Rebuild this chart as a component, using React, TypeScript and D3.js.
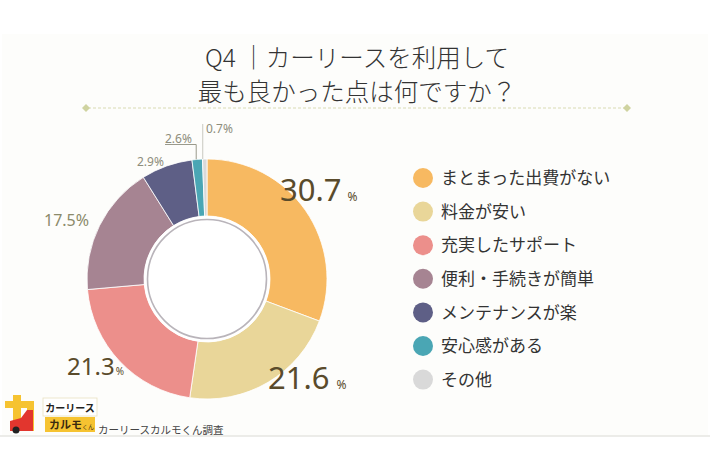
import React, { useRef, useEffect } from "react";
import * as d3 from "d3";

// survey answers (legend order = slice order, clockwise from 12 o'clock)
const categories = [
  "まとまった出費がない",
  "料金が安い",
  "充実したサポート",
  "便利・手続きが簡単",
  "メンテナンスが楽",
  "安心感がある",
  "その他",
];
// slice sizes as drawn in the picture
const shares = [30.7, 21.6, 21.3, 17.5, 6.9, 1.4, 0.6];
// printed percentage labels
const shareLabels = ["30.7", "21.6", "21.3", "17.5", "2.9", "2.6", "0.7"];
const colors = ["#f7b961", "#e9d699", "#ec8f8b", "#a68492", "#5e5f86", "#4aa6b4", "#d9d9d9"];
const titleLines = ["Q4 ｜カーリースを利用して", "最も良かった点は何ですか？"];
const sourceText = "カーリースカルモくん調査";

const JP = "'Noto Sans CJK JP', 'Noto Sans', sans-serif";
const NUM = "'Noto Sans', 'Liberation Sans', sans-serif";

interface LabelStyle {
  dx: number;
  dy: number;
  size: number;
  pctSize: number;
  pctGap: number;
  color: string;
  leader?: "elbow" | "vertical";
}

// where each percentage label sits, relative to the donut centre
const labelStyles: LabelStyle[] = [
  { dx: 73, dy: -78, size: 31, pctSize: 12, pctGap: 6, color: "#5a4b2b" },
  { dx: 61, dy: 110, size: 31, pctSize: 12, pctGap: 7, color: "#5a4b2b" },
  { dx: -140, dy: 96, size: 24, pctSize: 10, pctGap: 1, color: "#5a4b2b" },
  { dx: -163, dy: -53, size: 16, pctSize: 16, pctGap: 0, color: "#8b8a6a" },
  { dx: -70, dy: -113, size: 12, pctSize: 12, pctGap: 0, color: "#8e8d7c" },
  { dx: -42, dy: -136, size: 12, pctSize: 12, pctGap: 0, color: "#8e8d7c", leader: "elbow" },
  { dx: -1, dy: -146, size: 12, pctSize: 12, pctGap: 0, color: "#8e8d7c", leader: "vertical" },
];

const App: React.FC = () => {
  const ref = useRef<SVGSVGElement | null>(null);
  const width = 710;
  const height = 474;

  useEffect(() => {
    const root = d3.select(ref.current);
    root.selectAll("*").remove();
    const svg = root.attr("width", width).attr("height", height);

    // card background
    svg.append("rect").attr("width", width).attr("height", height).attr("fill", "#ffffff");
    svg
      .append("rect")
      .attr("x", 2)
      .attr("y", 34)
      .attr("width", width - 4)
      .attr("height", 402)
      .attr("fill", "#fdfdfb");
    svg
      .append("line")
      .attr("x1", 0)
      .attr("x2", width)
      .attr("y1", 436)
      .attr("y2", 436)
      .attr("stroke", "#e6e6e2")
      .attr("stroke-width", 1.5);

    // title
    svg
      .append("g")
      .selectAll("text")
      .data(titleLines)
      .enter()
      .append("text")
      .attr("x", 357)
      .attr("y", (d, i) => 67 + i * 34)
      .attr("text-anchor", "middle")
      .attr("fill", "#333")
      .style("font-family", JP)
      .style("font-size", "24.5px")
      .style("font-weight", 300)
      .text((d) => d);

    // ornamental divider
    const div = svg.append("g");
    div
      .append("line")
      .attr("x1", 88)
      .attr("x2", 625)
      .attr("y1", 108)
      .attr("y2", 108)
      .attr("stroke", "#d9dcb4")
      .attr("stroke-width", 1.2)
      .attr("stroke-dasharray", "3,2");
    [86, 627].forEach((x) => {
      div
        .append("path")
        .attr("d", `M${x - 4},108 L${x},104 L${x + 4},108 L${x},112 Z`)
        .attr("fill", "#cfd3a0");
    });

    // donut
    const cx = 207;
    const cy = 279;
    const outerR = 120;
    const innerR = 63;
    const g = svg.append("g").attr("transform", `translate(${cx},${cy})`);

    const pie = d3
      .pie<number>()
      .sort(null)
      .value((d) => d);
    const arcs = pie(shares);
    const arc = d3.arc<d3.PieArcDatum<number>>().innerRadius(innerR).outerRadius(outerR);

    g.selectAll("path.slice")
      .data(arcs)
      .enter()
      .append("path")
      .attr("class", "slice")
      .attr("d", arc)
      .attr("fill", (d, i) => colors[i])
      .attr("stroke", "#ffffff")
      .attr("stroke-width", 0.8);

    // inner hole with thin ring
    g.append("circle").attr("r", innerR).attr("fill", "#ffffff");
    g.append("circle")
      .attr("r", innerR - 3.5)
      .attr("fill", "#ffffff")
      .attr("stroke", "#b9b4ba")
      .attr("stroke-width", 1.6);

    // percentage labels
    const labels = g.append("g");
    arcs.forEach((a, i) => {
      const s = labelStyles[i];
      const t = labels
        .append("text")
        .attr("x", s.dx)
        .attr("y", s.dy)
        .attr("fill", s.color)
        .style("font-family", NUM)
        .style("font-size", `${s.size}px`);
      t.append("tspan").text(shareLabels[i]);
      t.append("tspan")
        .attr("dx", s.pctGap)
        .style("font-size", `${s.pctSize}px`)
        .text("%");

      const mid = (a.startAngle + a.endAngle) / 2;
      const px = Math.sin(mid) * outerR;
      const py = -Math.cos(mid) * outerR;
      if (s.leader === "elbow") {
        labels
          .append("path")
          .attr("d", `M${s.dx},${s.dy + 1.5} H${px - 1} V${py}`)
          .attr("fill", "none")
          .attr("stroke", "#9a9a8c")
          .attr("stroke-width", 1);
      } else if (s.leader === "vertical") {
        labels
          .append("line")
          .attr("x1", px - 2)
          .attr("x2", px - 2)
          .attr("y1", s.dy - 9)
          .attr("y2", py)
          .attr("stroke", "#c8c8c0")
          .attr("stroke-width", 1);
      }
    });

    // legend
    const legend = svg.append("g").attr("transform", "translate(423,178)");
    const item = legend
      .selectAll("g")
      .data(categories)
      .enter()
      .append("g")
      .attr("transform", (d, i) => `translate(0,${i * 33.6})`);
    item
      .append("circle")
      .attr("r", 10)
      .attr("fill", (d, i) => colors[i]);
    item
      .append("text")
      .attr("x", 18)
      .attr("dy", "0.36em")
      .attr("fill", "#333")
      .style("font-family", JP)
      .style("font-size", "17px")
      .text((d) => d);

    // logo + source
    const logo = svg.append("g");
    logo
      .append("path")
      .attr(
        "d",
        "M5,401 H13 V395 H21 V401 H34 V431 H27 V408 H21 V431 H13 V408 H5 Z",
      )
      .attr("fill", "#f6c331");
    logo
      .append("path")
      .attr("d", "M10,431 V421 L21,418 L27,410 H33 V431 Z")
      .attr("fill", "#e2362e");
    logo.append("circle").attr("cx", 16).attr("cy", 430).attr("r", 3.5).attr("fill", "#222");
    logo
      .append("rect")
      .attr("x", 43)
      .attr("y", 398)
      .attr("width", 54)
      .attr("height", 18)
      .attr("fill", "#ffffff")
      .attr("stroke", "#e8e0c0")
      .attr("stroke-width", 0.8);
    logo
      .append("text")
      .attr("x", 70)
      .attr("y", 412)
      .attr("text-anchor", "middle")
      .attr("fill", "#222")
      .style("font-family", JP)
      .style("font-size", "10px")
      .style("font-weight", 700)
      .text("カーリース");
    logo
      .append("rect")
      .attr("x", 45)
      .attr("y", 417)
      .attr("width", 50)
      .attr("height", 15)
      .attr("fill", "#f6c331");
    const brand = logo
      .append("text")
      .attr("x", 49)
      .attr("y", 429)
      .attr("fill", "#3a2a10")
      .style("font-family", JP)
      .style("font-size", "11px")
      .style("font-weight", 700);
    brand.append("tspan").text("カルモ");
    brand.append("tspan").style("font-size", "6px").style("font-weight", 400).text("くん");
    svg
      .append("text")
      .attr("x", 98)
      .attr("y", 434)
      .attr("fill", "#444")
      .style("font-family", JP)
      .style("font-size", "10.5px")
      .text(sourceText);
  }, []);

  return (
    <svg
      ref={ref}
      style={{ position: "absolute", left: 0, top: 0, display: "block" }}
    />
  );
};

export default App;
